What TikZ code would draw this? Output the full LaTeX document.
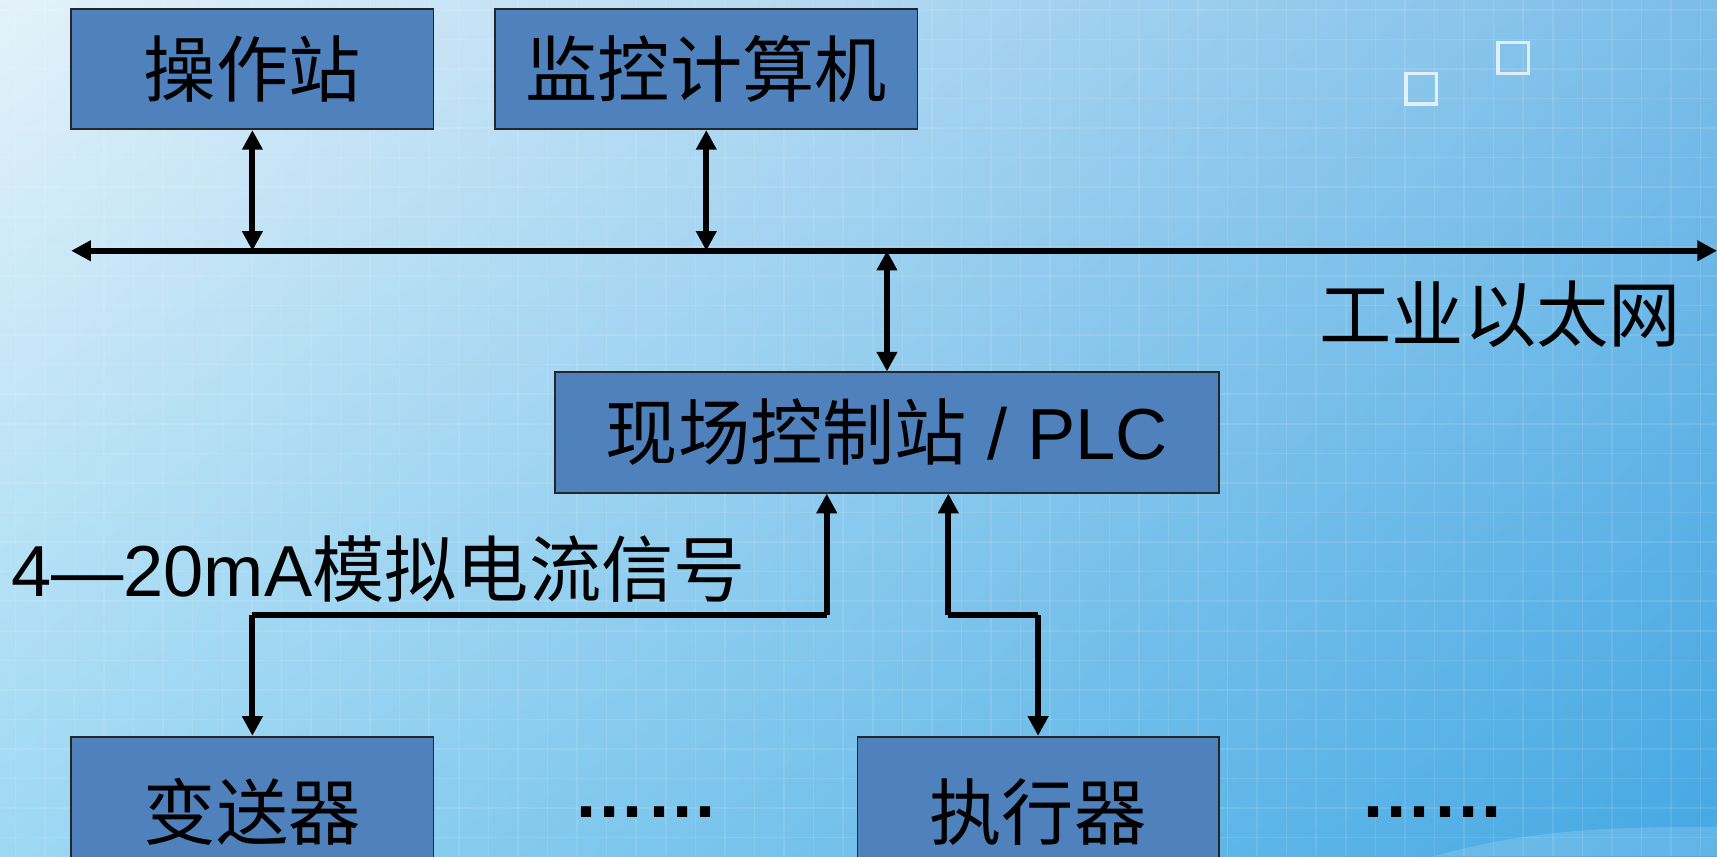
\documentclass[tikz,border=0pt]{standalone}
\usepackage{fontspec}
\setmainfont{Liberation Sans}
\newfontfamily\cjk{Noto Sans CJK SC}
\usetikzlibrary{arrows.meta,shadings}
\definecolor{boxblue}{HTML}{4F81BD}
\definecolor{bgUL}{HTML}{E4F2FA}
\definecolor{bgUR}{HTML}{7BBDE9}
\definecolor{bgLL}{HTML}{9DD8F3}
\definecolor{bgLR}{HTML}{45A8E3}
\tikzset{
  tip/.tip={Triangle[length=18pt,width=18pt]},
  blockbox/.style={draw=black!85, line width=1.5pt, fill=boxblue, inner sep=0pt, font=\fontsize{66}{70}\selectfont},
  link/.style={line width=5.5pt, tip-tip},
  startarrow/.style={line width=5.5pt, tip-},
  endarrow/.style={line width=5.5pt, -tip},
  wire/.style={line width=5.5pt},
  plain/.style={inner sep=0pt, font=\fontsize{66}{70}\selectfont}
}
\begin{document}
\begin{tikzpicture}[x=1pt,y=-1pt]
\clip (0,0) rectangle (1568,782);
\shade[upper left=bgUL, upper right=bgUR, lower left=bgLL, lower right=bgLR] (0,0) rectangle (1568,782);
% faint grid
\foreach \gx in {14,41,...,1568} \draw[white, opacity=0.10, line width=1.4pt] (\gx,0) -- (\gx,782);
\foreach \gy in {9,36,...,782} \draw[white, opacity=0.10, line width=1.4pt] (0,\gy) -- (1568,\gy);
% wave
\fill[white, opacity=0.15] (1309,782) .. controls (1390,760) and (1450,755) .. (1568,755) -- (1568,782) -- cycle;
% decorative squares
\draw[white, opacity=0.75, line width=2.8pt] (1284,67) rectangle (1312,95);
\draw[white, opacity=0.75, line width=2.8pt] (1368,39) rectangle (1396,67);

% boxes
\node[blockbox, minimum width=331pt, minimum height=110pt] (czz) at (230.5,63) {\cjk 操作站};
\node[blockbox, minimum width=386pt, minimum height=110pt] (jk) at (645,63) {\cjk 监控计算机};
\node[blockbox, minimum width=606pt, minimum height=110pt] (plc) at (810,395) {{\cjk 现场控制站} / PLC};
\node[blockbox, anchor=north, minimum width=331pt, text height=94pt, text depth=130pt] (bsq) at (230.5,672) {\cjk 变送器};
\node[blockbox, anchor=north, minimum width=330pt, text height=94pt, text depth=130pt] (zxq) at (948,672) {\cjk 执行器};

% bus
\coordinate (busL) at (65,229);
\coordinate (busR) at (1568,229);
\draw[link] (busL) -- (busR);
\draw[link] (czz.south) -- (czz.south |- busL);
\draw[link] (jk.south) -- (jk.south |- busL);
\draw[link] (plc.north |- busL) -- (plc.north);

% labels
\node[plain] (eth) at (1370,287) {\cjk 工业以太网};
\node[plain, anchor=west] (sig) at (10,520) {4—20mA{\cjk 模拟电流信号}};
\node[plain, font=\fontsize{66}{70}\selectfont\bfseries] (dots1) at (590,742) {……};
\node[plain, font=\fontsize{66}{70}\selectfont\bfseries] (dots2) at (1308,742) {……};

% field connectors
\coordinate (j1) at (755,562);
\coordinate (j2) at (866,562);
\coordinate (j3) at (948,562);
\draw[startarrow] (bsq.north) -- (bsq.north |- j1);
\draw[wire] (bsq.north |- j1) -- (j1);
\draw[endarrow] (j1) -- (j1 |- plc.south);
\draw[endarrow] (j2) -- (j2 |- plc.south);
\draw[wire] (j2) -- (j3);
\draw[endarrow] (j3) -- (zxq.north);
\end{tikzpicture}
\end{document}
